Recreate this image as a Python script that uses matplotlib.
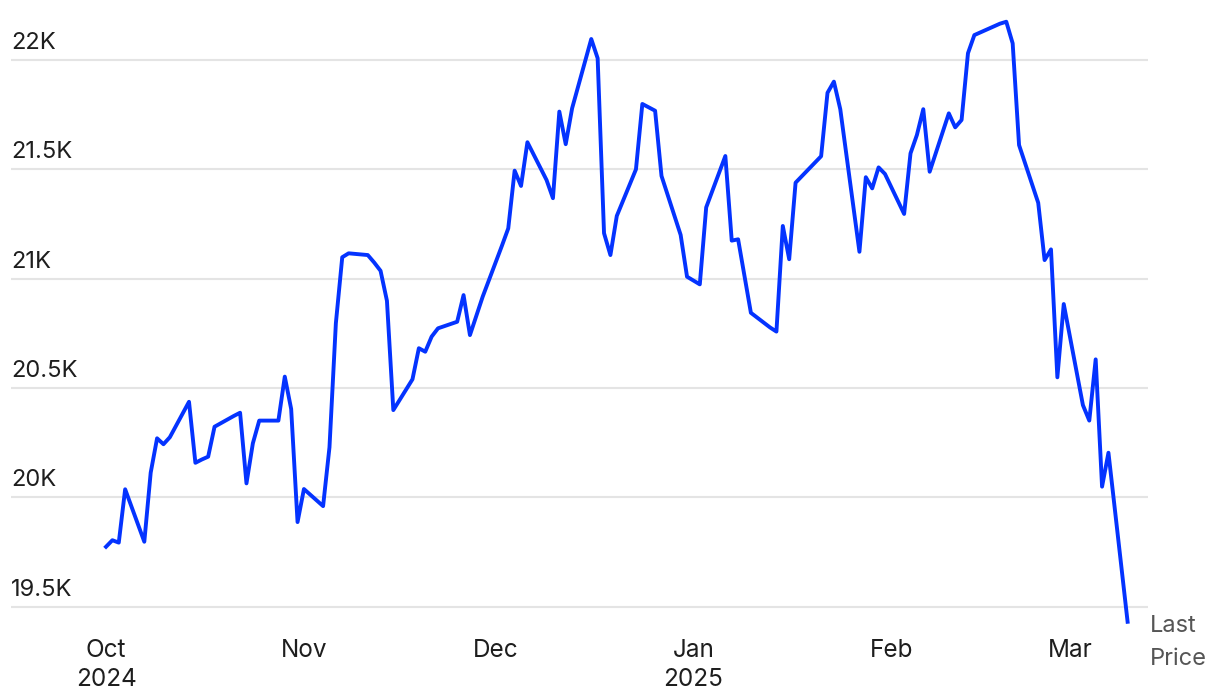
import matplotlib
matplotlib.use("Agg")
import matplotlib.dates as mdates
import pandas as pd
from matplotlib import pyplot as plt

plt.rcParams["font.family"] = ["Inter", "DejaVu Sans"]

# trading days, Oct 1 2024 - Mar 10 2025 (market holidays removed)
holidays = ["2024-11-28", "2024-12-25", "2025-01-01", "2025-01-09",
            "2025-01-20", "2025-02-17"]
dates = pd.bdate_range("2024-10-01", "2025-03-10")
dates = dates[~dates.isin(pd.to_datetime(holidays))]

# daily closes
oct_close = [19774, 19804, 19793, 20037, 19797, 20113, 20270, 20243, 20275,
             20437, 20158, 20173, 20186, 20323, 20372, 20387, 20064, 20247,
             20351, 20351, 20552, 20404, 19887]
nov_close = [20038, 19960, 20229, 20796, 21098, 21116, 21108, 21074, 21036,
             20899, 20399, 20540, 20682, 20666, 20735, 20773, 20803, 20925,
             20742, 20918]
dec_close = [21150, 21230, 21494, 21424, 21624, 21451, 21368, 21764, 21615,
             21779, 22096, 22008, 21208, 21108, 21287, 21500, 21799, 21768,
             21470, 21200, 21009]
jan_close = [20974, 21326, 21561, 21174, 21180, 20844, 20777, 20758, 21241,
             21089, 21439, 21560, 21850, 21901, 21775, 21123, 21464, 21413,
             21509, 21479]
feb_close = [21296, 21573, 21657, 21775, 21489, 21756, 21692, 21726, 22031,
             22114, 22166, 22175, 22076, 21611, 21347, 21085, 21134, 20549,
             20884]
mar_close = [20422, 20351, 20631, 20049, 20204, 19431]
closes = oct_close + nov_close + dec_close + jan_close + feb_close + mar_close

y_ticks = [19500, 20000, 20500, 21000, 21500, 22000]
y_labels = ["19.5K", "20K", "20.5K", "21K", "21.5K", "22K"]
x_ticks = pd.to_datetime(["2024-10-01", "2024-11-01", "2024-12-01",
                          "2025-01-01", "2025-02-01", "2025-03-01"])
x_labels = ["Oct\n2024", "Nov", "Dec", "Jan\n2025", "Feb", "Mar"]

fig = plt.figure(figsize=(12.2, 7), dpi=100)
ax = fig.add_axes([11 / 1220, 70 / 700, (1148 - 11) / 1220, 615 / 700])

ax.plot(dates, closes, color="#0433ff", lw=2.8, solid_joinstyle="round",
        zorder=3)

for v, lab in zip(y_ticks, y_labels):
    ax.axhline(v, color="#e4e4e4", lw=1.5, zorder=1)
    ax.annotate(lab, xy=(0, v), xycoords=("axes fraction", "data"),
                xytext=(0, 8), textcoords="offset points",
                ha="left", va="baseline", fontsize=17, color="#1e1e1e")

start = mdates.date2num(pd.Timestamp("2024-10-01"))
ax.set_xlim(start - 95 / 6.385, start + 1042 / 6.385)
ax.set_ylim(19500 - 23.3 * 4.573, 22000 + 45 * 4.573)

ax.set_xticks(x_ticks)
ax.set_xticklabels(x_labels, fontsize=17.5, color="#1e1e1e", linespacing=1.33)
ax.tick_params(axis="x", length=0, pad=6.5)
ax.set_yticks([])

for s in ax.spines.values():
    s.set_visible(False)

ax.annotate("Last", xy=(1, closes[-1]), xycoords=("axes fraction", "data"),
            xytext=(1, -7), textcoords="offset points",
            ha="left", va="baseline", fontsize=17, color="#555555")
ax.annotate("Price", xy=(1, closes[-1]), xycoords=("axes fraction", "data"),
            xytext=(1, -31), textcoords="offset points",
            ha="left", va="baseline", fontsize=17, color="#555555")

fig.savefig("out.png", dpi=100)
